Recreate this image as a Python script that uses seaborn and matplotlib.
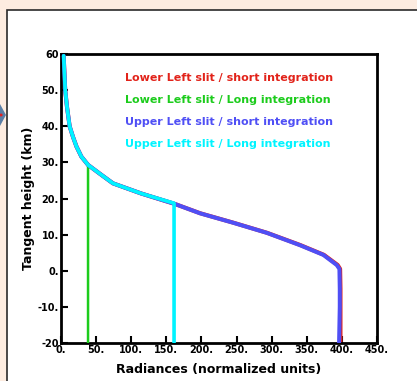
import matplotlib
matplotlib.use("Agg")
import matplotlib.pyplot as plt
import seaborn as sns
import pandas as pd
from matplotlib.ticker import MultipleLocator, FixedLocator, FixedFormatter
from matplotlib.patches import Rectangle, Polygon, Circle

sns.set_style("white")
plt.rcParams['font.family'] = ['DejaVu Sans']
plt.rcParams['text.color'] = 'black'
plt.rcParams['axes.labelcolor'] = 'black'
plt.rcParams['xtick.color'] = 'black'
plt.rcParams['ytick.color'] = 'black'

# ---- data ----
height_ll_short = [59.5, 55, 50, 45.4, 40, 37.1, 34.4, 31.6, 29.3, 26.9, 24.2, 21.4, 18.5, 15.9, 13.3, 10.5, 7.1, 4.4, 1.6, 0.5, -5, -10, -15, -20]
rad_ll_short    = [3.8, 4.8, 6, 8.5, 12.3, 17, 22, 29, 38.5, 55, 74, 114, 162, 198.5, 245.5, 293.5, 341, 374.5, 394, 397.5, 398, 398, 398, 398]

height_ll_long = [59.5, 55, 50, 45.4, 40, 37.1, 34.4, 31.6, 29.3, -20]
rad_ll_long    = [3.8, 4.8, 6, 8.5, 12.3, 17, 22, 29, 38.5, 38.5]

height_ul_short = [59.5, 55, 50, 45.4, 40, 37.1, 34.4, 31.6, 29.3, 26.9, 24.2, 21.4, 18.5, 15.9, 13.3, 10.5, 7.1, 4.4, 1.6, 0.5, -5, -10, -15, -20]
rad_ul_short    = [3.8, 4.8, 6, 8.5, 12.3, 17, 22, 29, 38.5, 55, 74, 114, 162, 198, 245, 293, 340, 373.5, 392.6, 396.5, 397, 397, 396.5, 396]

height_ul_long = [59.5, 55, 50, 45.4, 40, 37.1, 34.4, 31.6, 29.3, 26.9, 24.2, 21.4, 18.7, -20]
rad_ul_long    = [3.8, 4.8, 6, 8.5, 12.3, 17, 22, 29, 38.5, 55, 74, 114, 161, 161]

series_names = ["Lower Left slit / short integration",
                "Lower Left slit / Long integration",
                "Upper Left slit / short integration",
                "Upper Left slit / Long integration"]
series_colors = ["#e2231a", "#1ccc1c", "#4f4ff5", "#00f4ff"]
series_widths = [2.9, 1.8, 2.9, 2.6]

x_ticks = [0, 50, 100, 150, 200, 250, 300, 350, 400, 450]
x_tick_labels = ["0.", "50.", "100.", "150.", "200.", "250.", "300.", "350.", "400.", "450."]
y_ticks = [-20, -10, 0, 10, 20, 30, 40, 50, 60]
y_tick_labels = ["-20", "-10.", "0.", "10.", "20.", "30.", "40.", "50.", "60"]

frames = [
    pd.DataFrame({"rad": rad_ll_short, "h": height_ll_short}),
    pd.DataFrame({"rad": rad_ll_long, "h": height_ll_long}),
    pd.DataFrame({"rad": rad_ul_short, "h": height_ul_short}),
    pd.DataFrame({"rad": rad_ul_long, "h": height_ul_long}),
]

fig = plt.figure(figsize=(4.17, 3.81), dpi=100)
fig.patch.set_facecolor("#fdece0")

# white slide panel
panel = Rectangle((7/417, -0.01), 1.0, 1 - 10/381 + 0.01, transform=fig.transFigure,
                  facecolor="white", edgecolor="#2a2a2a", linewidth=1.2, zorder=-5)
fig.patches.append(panel)
# arrow on left edge
arrow = Polygon([(0/417, 1-104/381), (6/417, 1-115/381), (0/417, 1-126/381)], closed=True,
                transform=fig.transFigure, facecolor="#5a7ea6", edgecolor="none", zorder=-4)
fig.patches.append(arrow)
dot = Circle((1/417, 1-115/381), 1.6/417, transform=fig.transFigure, facecolor="#e02020",
             edgecolor="none", zorder=-3)
fig.patches.append(dot)

ax = fig.add_axes([61/417, 38/381, 316/417, 289/381])
ax.set_zorder(1)
ax.set_facecolor("white")

for i in [0, 1, 2, 3]:
    sns.lineplot(data=frames[i], x="rad", y="h", sort=False, estimator=None, ax=ax,
                 color=series_colors[i], linewidth=series_widths[i], zorder=2 + i)
for ln in ax.get_lines():
    ln.set_solid_joinstyle("round")

ax.set_xlim(0, 450)
ax.set_ylim(-20, 60)
ax.xaxis.set_major_locator(FixedLocator(x_ticks))
ax.xaxis.set_major_formatter(FixedFormatter(x_tick_labels))
ax.yaxis.set_major_locator(FixedLocator(y_ticks))
ax.yaxis.set_major_formatter(FixedFormatter(y_tick_labels))
ax.xaxis.set_minor_locator(MultipleLocator(10))
ax.yaxis.set_minor_locator(MultipleLocator(2))
ax.tick_params(axis="both", which="major", direction="in", length=5, width=1.5,
               labelsize=7, pad=1.5, top=False, right=False)
ax.tick_params(axis="both", which="minor", direction="in", length=2.5, width=1.0,
               top=False, right=False)
ax.tick_params(axis="both", bottom=True, left=True)
for lab in ax.get_xticklabels() + ax.get_yticklabels():
    lab.set_fontweight("bold")
for s in ax.spines.values():
    s.set_visible(True)
    s.set_linewidth(2.0)
    s.set_color("black")

ax.set_xlabel("Radiances (normalized units)", fontsize=9, fontweight="bold", labelpad=6)
ax.set_ylabel("Tangent height (km)", fontsize=9, fontweight="bold", labelpad=2)

text_y = [78, 100, 122, 144]
for name, col, ty in zip(series_names, series_colors, text_y):
    fig.text(125/417, 1 - ty/381, name, color=col, fontsize=8, fontweight="bold",
             ha="left", va="center", zorder=5)

fig.savefig("out.png", dpi=100, facecolor=fig.get_facecolor())
